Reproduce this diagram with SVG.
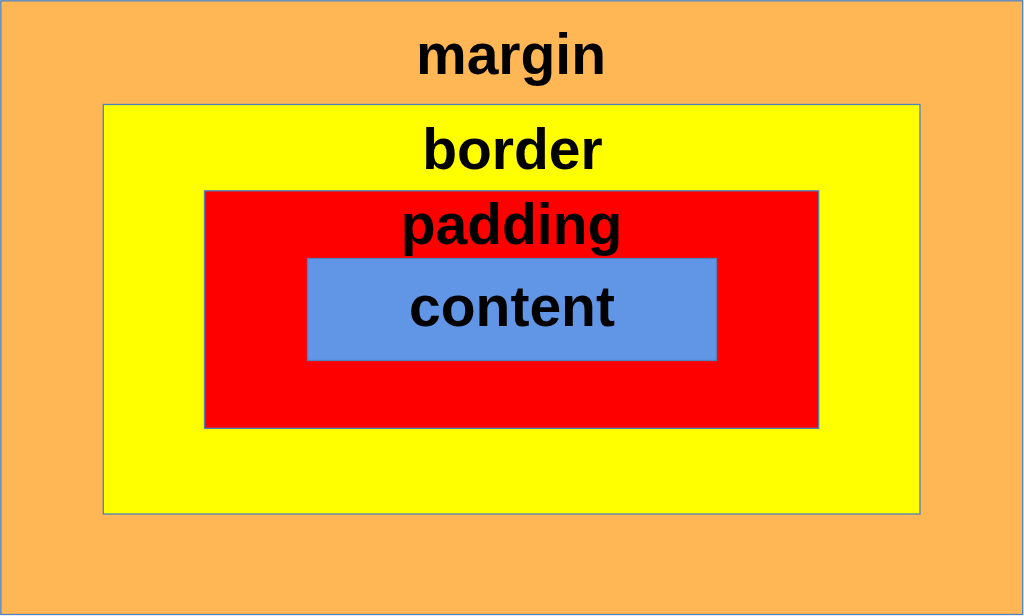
<svg xmlns="http://www.w3.org/2000/svg" width="1024" height="616" viewBox="0 0 1024 616">
<style>
.box{stroke:#4F81BD;stroke-width:1.3}
.lbl{font-family:"Liberation Sans",Arial,sans-serif;font-weight:bold;font-size:57px;fill:#000;text-anchor:middle}
</style>
<g id="margin">
<rect class="box" x="0.8" y="0.8" width="1021.9" height="613.7" fill="#FFB755"/>
<text class="lbl" x="511" y="74">margin</text>
</g>
<g id="border">
<rect class="box" x="103.3" y="104.5" width="816.7" height="409.5" fill="#FFFF00"/>
<text class="lbl" x="512.5" y="169">border</text>
</g>
<g id="padding">
<rect class="box" x="204.5" y="190.8" width="614.2" height="237.5" fill="#FF0000"/>
<text class="lbl" x="511.5" y="244">padding</text>
</g>
<g id="content">
<rect class="box" x="307.5" y="258.5" width="409" height="102" fill="#6196E6"/>
<text class="lbl" x="512" y="326">content</text>
</g>
<g id="connectors"/>
</svg>
